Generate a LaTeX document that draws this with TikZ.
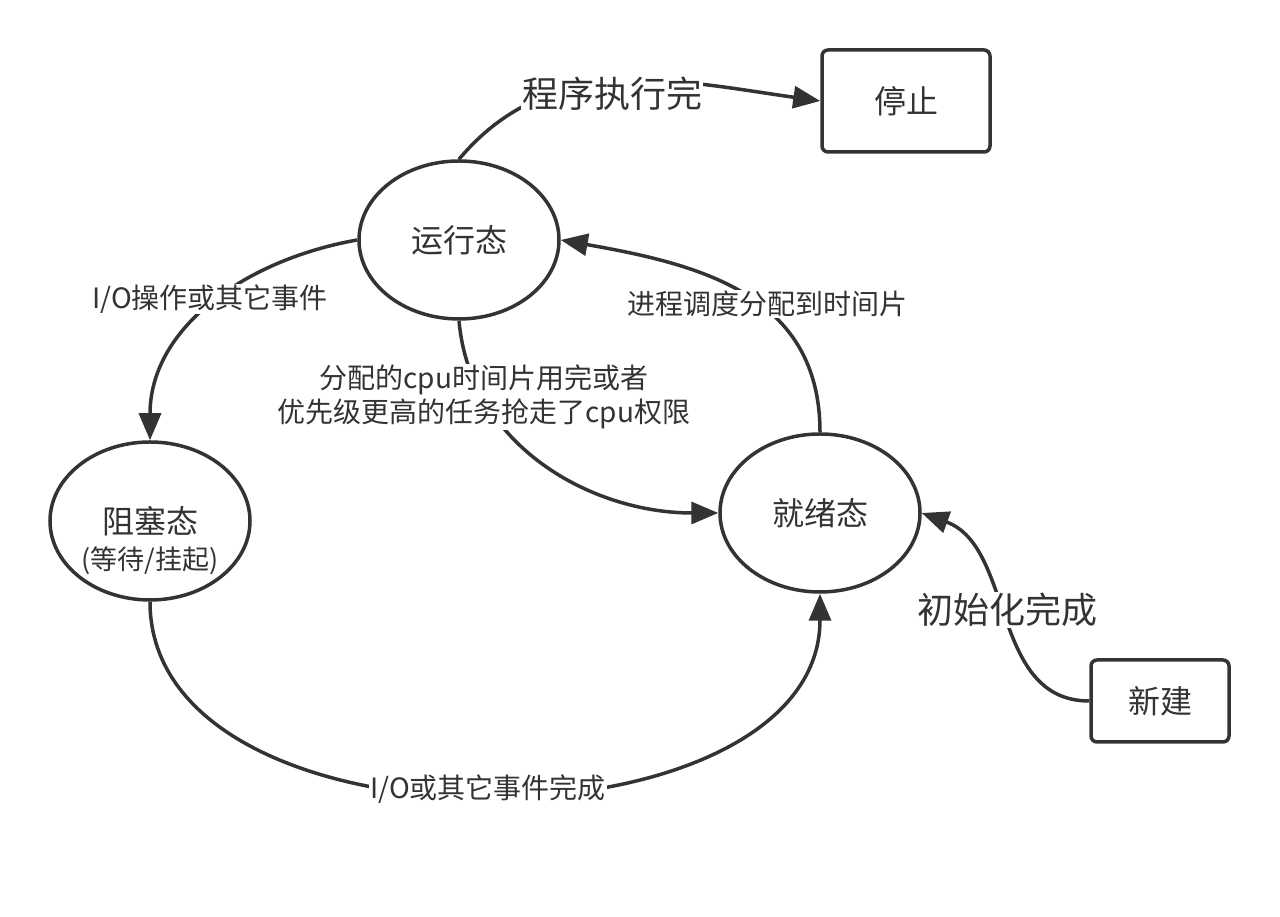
\documentclass[tikz,border=0pt]{standalone}
\usepackage{fontspec}
\setmainfont{Noto Sans CJK SC}
\usetikzlibrary{arrows.meta,shapes.geometric}
\definecolor{ink}{HTML}{333333}
\tikzset{
  state/.style={ellipse,draw=ink,line width=3.5pt,minimum width=200pt,minimum height=158pt,text=ink,font=\fontsize{32}{38}\selectfont},
  box/.style={rectangle,rounded corners=6pt,draw=ink,line width=3.5pt,text=ink,font=\fontsize{32}{38}\selectfont},
  lbl/.style={fill=white,inner sep=1pt,text=ink,align=center,font=\fontsize{28}{34}\selectfont},
  biglbl/.style={lbl,font=\fontsize{36}{42}\selectfont},
  trans/.style={draw=ink,line width=3.5pt,-{Triangle[length=27pt,width=22pt]}}
}
\begin{document}
\begin{tikzpicture}[x=1pt,y=1pt]
\useasboundingbox (0,0) rectangle (1280,917);
% states
\node[state] (run) at (459,677) {运行态};
\node[state,label={[text=ink,font=\fontsize{27}{32}\selectfont,yshift=-40pt]center:(等待/挂起)}] (block) at (150,396) {阻塞态};
\node[state] (ready) at (820,404) {就绪态};
\node[box,minimum width=168pt,minimum height=102pt] (stop) at (906,816) {停止};
\node[box,minimum width=138pt,minimum height=82pt] (new) at (1160,216) {新建};
% transitions
\draw[trans] (run.north) to[out=50,in=172] (stop.west);
\draw[trans] (run.west) to[out=190,in=90] (block.north);
\draw[trans] (run.south) to[out=-85,in=180] (ready.west);
\draw[trans] (ready.north) to[out=90,in=-10,looseness=1.1] (run.east);
\draw[trans] (block.south) to[out=-90,in=-90] (ready.south);
\draw[trans] (new.west) to[out=180,in=-20] (ready.east);
% labels
\node[biglbl] (done) at (612,823) {程序执行完};
\node[lbl] (io) at (210,618) {I/O操作或其它事件};
\node[lbl] (slice) at (484,520) {分配的cpu时间片用完或者\\优先级更高的任务抢走了cpu权限};
\node[lbl] (sched) at (767,613) {进程调度分配到时间片};
\node[lbl] (iodone) at (488,128) {I/O或其它事件完成};
\node[biglbl] (init) at (1007,307) {初始化完成};
\end{tikzpicture}
\end{document}
